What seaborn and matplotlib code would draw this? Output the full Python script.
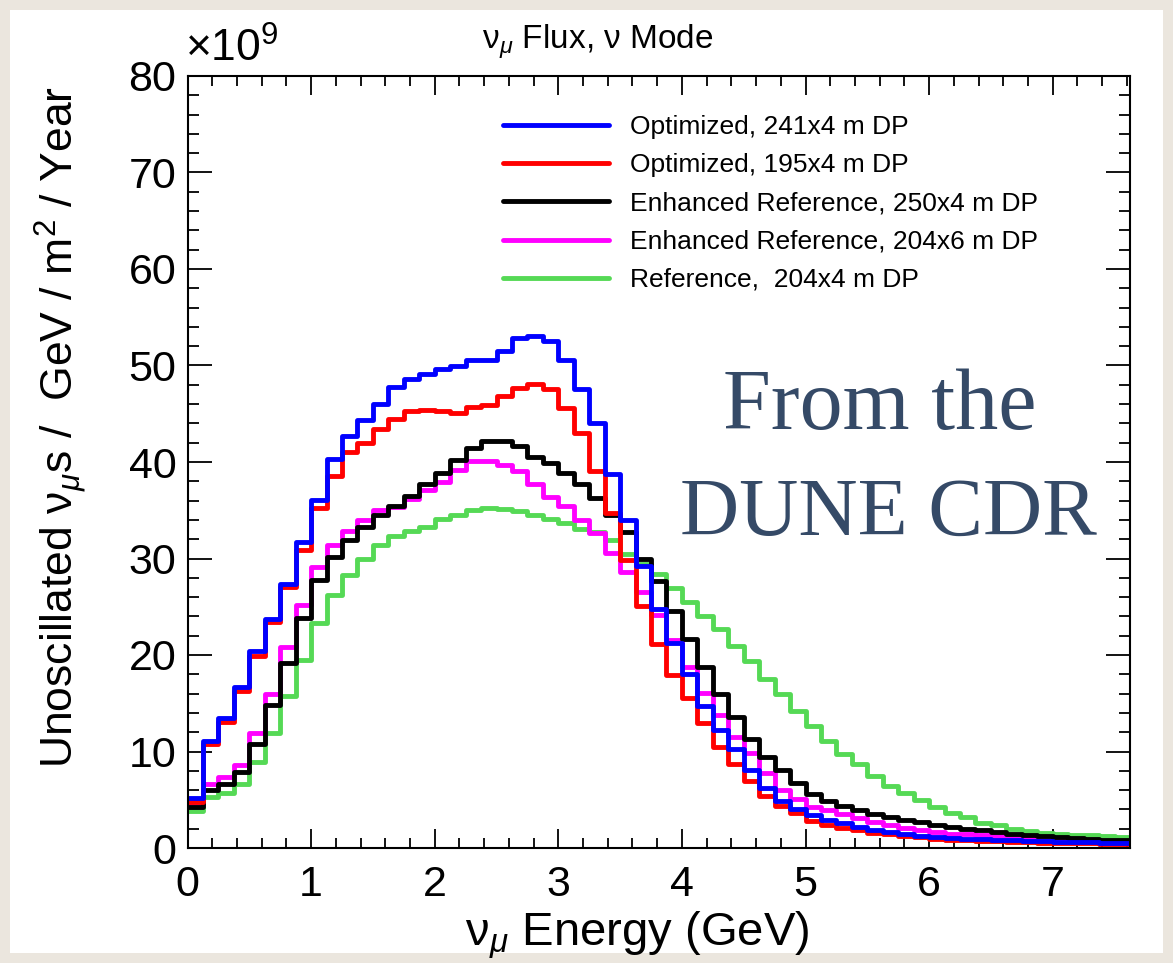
import numpy as np
import pandas as pd
import matplotlib
matplotlib.use("Agg")
import matplotlib.pyplot as plt
import seaborn as sns
from matplotlib.lines import Line2D
from matplotlib.patches import Rectangle

# ---------------- data ----------------
bin_width = 0.125          # GeV
n_bins = 61                # 0 -> 7.625 GeV

labels = [
    "Optimized, 241x4 m DP",
    "Optimized, 195x4 m DP",
    "Enhanced Reference, 250x4 m DP",
    "Enhanced Reference, 204x6 m DP",
    "Reference,  204x4 m DP",
]

opt_241 = [5.2, 11.1, 13.5, 16.7, 20.4, 23.7, 27.4, 31.7, 36.1, 40.3,
           42.7, 44.4, 46.0, 47.8, 48.6, 49.1, 49.6, 49.9, 50.6, 50.6,
           51.5, 52.9, 53.1, 52.5, 50.6, 47.6, 44.0, 38.8, 34.0, 29.2,
           24.8, 21.2, 18.0, 14.7, 12.2, 10.3, 8.1, 6.2, 4.9, 4.0,
           3.4, 2.9, 2.6, 2.2, 1.9, 1.7, 1.45, 1.25, 1.1, 1.0,
           0.95, 0.9, 0.85, 0.8, 0.75, 0.7, 0.65, 0.62, 0.58, 0.55, 0.52]

opt_195 = [4.8, 10.8, 13.1, 16.3, 19.9, 23.4, 27.0, 30.9, 35.2, 38.5,
           41.0, 42.0, 43.4, 44.5, 45.3, 45.4, 45.3, 45.1, 45.7, 45.9,
           46.8, 47.7, 48.1, 47.6, 45.6, 43.0, 39.1, 34.7, 29.8, 25.1,
           21.1, 17.9, 15.5, 13.0, 10.5, 8.7, 6.9, 5.4, 4.4, 3.6,
           2.8, 2.4, 2.1, 1.9, 1.6, 1.45, 1.25, 1.1, 0.95, 0.85,
           0.8, 0.75, 0.7, 0.65, 0.6, 0.55, 0.52, 0.5, 0.47, 0.45, 0.42]

enh_250 = [4.3, 6.0, 6.6, 7.9, 10.8, 14.8, 19.2, 23.8, 27.8, 30.2,
           31.9, 33.3, 34.5, 35.4, 36.5, 37.7, 38.9, 40.2, 41.5, 42.2,
           42.2, 41.7, 40.5, 39.9, 38.9, 37.7, 36.3, 34.5, 32.7, 30.0,
           27.7, 24.6, 21.7, 18.8, 16.0, 13.6, 11.3, 9.4, 8.1, 6.7,
           5.6, 4.9, 4.4, 3.9, 3.5, 3.2, 2.9, 2.7, 2.4, 2.2,
           2.0, 1.9, 1.7, 1.5, 1.35, 1.2, 1.1, 1.0, 0.9, 0.85, 0.8]

enh_204x6 = [4.5, 6.6, 7.4, 8.6, 11.9, 16.0, 20.8, 25.2, 29.1, 31.4,
             32.8, 34.0, 35.0, 35.3, 36.2, 37.1, 37.9, 39.2, 40.1, 40.1,
             39.7, 39.1, 37.7, 36.4, 35.4, 34.0, 32.6, 30.6, 28.6, 26.5,
             24.1, 21.6, 18.8, 16.1, 13.8, 11.5, 9.8, 7.8, 6.0, 5.1,
             4.3, 3.9, 3.5, 3.1, 2.7, 2.4, 2.1, 1.9, 1.7, 1.5,
             1.4, 1.3, 1.2, 1.1, 1.0, 0.95, 0.9, 0.85, 0.8, 0.75, 0.7]

ref_204 = [3.8, 5.3, 5.7, 6.6, 8.9, 11.9, 15.7, 19.5, 23.3, 26.2,
           28.3, 30.0, 31.4, 32.3, 32.8, 33.3, 34.1, 34.5, 35.0, 35.2,
           35.1, 34.9, 34.5, 34.1, 33.7, 33.1, 32.7, 31.9, 30.5, 29.4,
           28.4, 26.9, 25.5, 24.0, 22.7, 20.9, 19.4, 17.5, 16.0, 14.2,
           12.6, 11.1, 9.7, 8.7, 7.5, 6.4, 5.7, 5.0, 4.2, 3.6,
           3.2, 2.6, 2.4, 2.0, 1.8, 1.6, 1.45, 1.35, 1.3, 1.2, 1.1]

colors = ["#0000ff", "#ff0000", "#000000", "#ff00ff", "#55d955"]
series = [opt_241, opt_195, enh_250, enh_204x6, ref_204]

x_ticks = [0, 1, 2, 3, 4, 5, 6, 7]
y_ticks = [0, 10, 20, 30, 40, 50, 60, 70, 80]

title = r"ν$_{\mu}$ Flux, ν Mode"
xlabel = r"ν$_{\mu}$ Energy (GeV)"
ylabel = r"Unoscillated ν$_{\mu}$s /  GeV / m$^{2}$ / Year"

# ---------------- style ----------------
sns.set_theme(style="ticks")
plt.rcParams["font.family"] = ["Liberation Sans", "DejaVu Sans"]
plt.rcParams["mathtext.fontset"] = "custom"
plt.rcParams["mathtext.rm"] = "Liberation Sans"
plt.rcParams["mathtext.it"] = "Liberation Sans:italic"
plt.rcParams["mathtext.bf"] = "Liberation Sans:bold"
plt.rcParams["text.color"] = "black"
plt.rcParams["xtick.labelcolor"] = "black"
plt.rcParams["ytick.labelcolor"] = "black"

W, H = 1173, 963
fig = plt.figure(figsize=(W / 100, H / 100), dpi=100, facecolor="#ebe6de")
fig.patches.append(Rectangle((10 / W, 10 / H), 1 - 20 / W, 1 - 20 / H,
                             transform=fig.transFigure, facecolor="white",
                             edgecolor="none", zorder=-10))

ax = fig.add_axes([187.5 / W, 1 - 848 / H, (1130 - 187.5) / W, (848 - 76) / H])
ax.set_facecolor("white")

x_max = n_bins * bin_width
centers = (np.arange(n_bins) + 0.5) * bin_width

# draw order: green first, blue last (on top)
for idx in [4, 3, 2, 1, 0]:
    df = pd.DataFrame({"energy": centers, "flux": series[idx]})
    sns.histplot(data=df, x="energy", weights="flux", binwidth=bin_width,
                 binrange=(0, x_max), element="step", fill=False,
                 color=colors[idx], linewidth=3.5, ax=ax)

ax.set_xlim(0, x_max)
ax.set_ylim(0, 80)
ax.set_xlabel("")
ax.set_ylabel("")
ax.set_xticks(x_ticks)
ax.set_yticks(y_ticks)
ax.set_xticklabels([str(t) for t in x_ticks])
ax.set_yticklabels([str(t) for t in y_ticks])
ax.xaxis.set_minor_locator(matplotlib.ticker.MultipleLocator(0.2))
ax.yaxis.set_minor_locator(matplotlib.ticker.MultipleLocator(2))
for s in ax.spines.values():
    s.set_visible(True)
    s.set_linewidth(1.5)
    s.set_color("black")
    s.set_zorder(5)
ax.tick_params(which="both", direction="in", top=True, right=True,
               color="black", width=1.3)
ax.tick_params(axis="x", which="major", length=14, labelsize=31, pad=12)
ax.tick_params(axis="x", which="minor", length=7)
ax.tick_params(axis="y", which="major", length=17, labelsize=31, pad=8)
ax.tick_params(axis="y", which="minor", length=8)

# texts
fig.text(598 / W, 1 - 42 / H, title, ha="center", va="center", fontsize=24)
fig.text(637 / W, 1 - 935 / H, xlabel, ha="center", va="center", fontsize=34)
fig.text(60 / W, 1 - 427 / H, ylabel, ha="center", va="center",
         rotation=90, fontsize=32)
fig.text(185 / W, 1 - 62 / H, r"$\times$10$^{9}$", ha="left", va="baseline",
         fontsize=32)

fig.text(880 / W, 1 - 429 / H, "From the", ha="center", va="baseline",
         fontsize=62, color="#354a67", family="Liberation Serif")
fig.text(888 / W, 1 - 535 / H, "DUNE CDR", ha="center", va="baseline",
         fontsize=59, color="#354a67", family="Liberation Serif")

handles = [Line2D([0], [0], color=c, lw=3.5) for c in colors]
ax.legend(handles, labels, loc="upper left",
          bbox_to_anchor=(503 / W, 1 - 115 / H), bbox_transform=fig.transFigure,
          frameon=False, fontsize=19, handlelength=4.0, handletextpad=0.83,
          labelspacing=0.54, borderpad=0, borderaxespad=0)

fig.savefig("out.png", dpi=100, facecolor=fig.get_facecolor())
